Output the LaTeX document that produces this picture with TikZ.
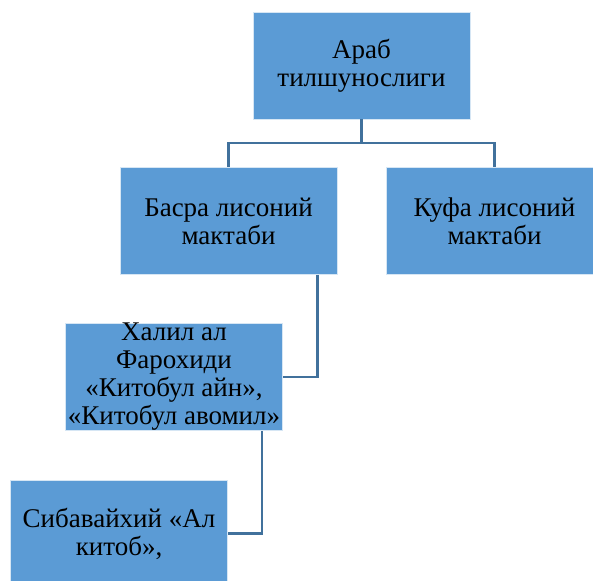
\documentclass[tikz,border=0pt]{standalone}
\usepackage{fontspec}
\setmainfont{Liberation Serif}
\definecolor{boxblue}{RGB}{91,155,213}
\definecolor{lineblue}{RGB}{65,113,156}
\tikzset{
  schoolbox/.style={rectangle, fill=boxblue, draw=white!75!boxblue, line width=0.8pt,
    minimum width=217pt, minimum height=107pt, align=center, inner sep=0pt,
    font=\fontsize{27}{28}\selectfont},
  link/.style={draw=lineblue, line width=2.2pt}
}

\begin{document}
\begin{tikzpicture}[x=1pt,y=-1pt]
			\useasboundingbox (0,0) rectangle (593,580);
			\clip (0,0) rectangle (593,580);
			\node[schoolbox] (arab) at (361.5,65.5) {Араб\\тилшунослиги};
			\node[schoolbox] (basra) at (228.5,221) {Басра лисоний\\мактаби};
			\node[schoolbox] (kufa) at (494.5,221) {Куфа лисоний\\мактаби};
			\node[schoolbox] (xalil) at (174,377) {Халил ал\\Фарохиди\\«Китобул айн»,\\«Китобул авомил»};
			\node[schoolbox] (siba) at (119,533.5) {Сибавайхий «Ал\\китоб»,};
			\coordinate (fork) at ([yshift=-24pt]arab.south);
			\draw[link] (arab.south) -- (fork) -| (basra.north);
			\draw[link] (fork) -| (kufa.north);
			\draw[link] ([xshift=-20pt]basra.south east) |- (xalil.east);
			\draw[link] ([xshift=-21pt]xalil.south east) |- (siba.east);
		\end{tikzpicture}
\end{document}
